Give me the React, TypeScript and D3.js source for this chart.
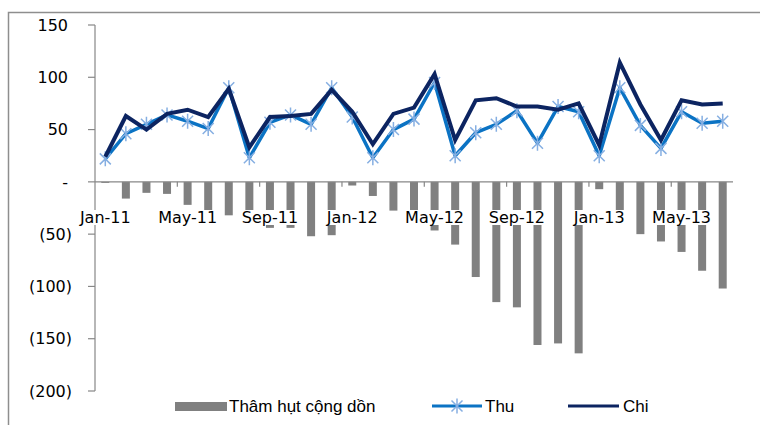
import React, { useEffect, useRef } from "react";
import * as d3 from "d3";

const months = [
  "Jan-11", "Feb-11", "Mar-11", "Apr-11", "May-11", "Jun-11", "Jul-11", "Aug-11", "Sep-11", "Oct-11", "Nov-11", "Dec-11",
  "Jan-12", "Feb-12", "Mar-12", "Apr-12", "May-12", "Jun-12", "Jul-12", "Aug-12", "Sep-12", "Oct-12", "Nov-12", "Dec-12",
  "Jan-13", "Feb-13", "Mar-13", "Apr-13", "May-13", "Jun-13", "Jul-13",
];
const xTickLabels = ["Jan-11", "May-11", "Sep-11", "Jan-12", "May-12", "Sep-12", "Jan-13", "May-13"];
const yTickValues = [150, 100, 50, 0, -50, -100, -150, -200];

const thamHut = [
  -1, -16, -10.5, -11.5, -22, -30, -32, -38, -44, -44, -52, -51,
  -3.5, -13.5, -27.5, -36, -46.5, -60, -91, -115, -120, -156, -154.5, -164,
  -7, -28, -50, -57, -67, -85, -102,
];
const thu = [
  22, 46, 55, 64, 58, 51, 90, 23, 57, 64, 55, 90,
  62, 23, 50, 60, 95, 25, 47, 55, 68, 37, 72, 67,
  25, 90, 54, 32, 67, 56, 58,
];
const chi = [
  24, 63, 50, 65, 69, 62, 89, 33, 62, 63, 65, 88,
  67, 36, 65, 71, 103, 40, 78, 80, 72, 72, 69, 75,
  35, 114, 74, 40, 78, 74, 75,
];
const legendLabels = ["Thâm hụt cộng dồn", "Thu", "Chi"];

const BAR = "#808080";
const THU = "#0b73c4";
const THU_MARK = "#86afe2";
const CHI = "#0c2461";
const AXIS = "#878787";
const AXIS_FONT = "DejaVu Sans";
const LEG_FONT = "Liberation Sans";

const fmt = (v: number) => (v === 0 ? "-" : v < 0 ? `(${-v})` : String(v));

export default function App() {
  const ref = useRef<SVGSVGElement>(null);

  useEffect(() => {
    const svg = d3.select(ref.current);
    svg.selectAll("*").remove();

    const x = d3.scaleBand<string>().domain(months).range([95, 733]).padding(0);
    const y = d3.scaleLinear().domain([-200, 150]).range([391, 25]);
    const cx = (m: string) => (x(m) as number) + x.bandwidth() / 2;
    const y0 = y(0);
    const barW = 8;

    // outer frame
    svg.append("rect")
      .attr("x", 8.5).attr("y", 12.5).attr("width", 800).attr("height", 500)
      .attr("fill", "none").attr("stroke", "#8e8e8e").attr("stroke-width", 1.5);

    // bars
    svg.append("g").selectAll("rect").data(months).join("rect")
      .attr("x", (m) => cx(m) - barW / 2)
      .attr("y", (_, i) => Math.min(y0, y(thamHut[i])))
      .attr("width", barW)
      .attr("height", (_, i) => Math.abs(y(thamHut[i]) - y0))
      .attr("fill", BAR);

    // axes
    const ax = svg.append("g").attr("stroke", AXIS).attr("stroke-width", 1.2);
    ax.append("line").attr("x1", 95).attr("x2", 733).attr("y1", y0).attr("y2", y0);
    ax.append("line").attr("x1", 95).attr("x2", 95).attr("y1", y(150)).attr("y2", y(-200));
    yTickValues.forEach((v) => {
      ax.append("line").attr("x1", 88).attr("x2", 95).attr("y1", y(v)).attr("y2", y(v));
    });
    months.forEach((m, i) => {
      if (i % 4 === 0 && i > 0) {
        ax.append("line").attr("x1", x(m) as number).attr("x2", x(m) as number)
          .attr("y1", y0).attr("y2", y0 + 5);
      }
    });

    // lines
    const line = d3.line<number>()
      .x((_, i) => cx(months[i]))
      .y((d) => y(d));
    svg.append("path").attr("d", line(thu) as string)
      .attr("fill", "none").attr("stroke", THU).attr("stroke-width", 3.5)
      .attr("stroke-linejoin", "round");
    const star = "M-5.5,-5.5L5.5,5.5M-5.5,5.5L5.5,-5.5M0,-7.5L0,7.5";
    svg.append("g").selectAll("path").data(thu).join("path")
      .attr("d", star)
      .attr("transform", (d, i) => `translate(${cx(months[i])},${y(d)})`)
      .attr("stroke", THU_MARK).attr("stroke-width", 1.5).attr("fill", "none");
    svg.append("path").attr("d", line(chi) as string)
      .attr("fill", "none").attr("stroke", CHI).attr("stroke-width", 4)
      .attr("stroke-linejoin", "miter");

    // y labels
    yTickValues.forEach((v) => {
      svg.append("text")
        .attr("x", v < 0 ? 72 : 68)
        .attr("y", y(v))
        .attr("dy", "0.36em")
        .attr("text-anchor", "end")
        .attr("font-family", AXIS_FONT)
        .attr("font-size", 16)
        .attr("fill", "#000")
        .text(fmt(v));
    });

    // x labels with opaque background
    xTickLabels.forEach((lab) => {
      const g = svg.append("g");
      const bg = g.append("rect").attr("fill", "#fff");
      const t = g.append("text")
        .attr("x", cx(lab))
        .attr("y", 223)
        .attr("text-anchor", "middle")
        .attr("font-family", AXIS_FONT)
        .attr("font-size", 16)
        .attr("fill", "#000")
        .text(lab);
      const bb = (t.node() as SVGTextElement).getBBox();
      bg.attr("x", bb.x - 1).attr("y", 210).attr("width", bb.width + 2).attr("height", 15);
    });

    // legend
    const lg = svg.append("g").attr("font-family", LEG_FONT).attr("font-size", 17).attr("fill", "#000");
    lg.append("rect").attr("x", 175).attr("y", 402).attr("width", 52).attr("height", 9).attr("fill", BAR);
    lg.append("text").attr("x", 229).attr("y", 412).text(legendLabels[0]);
    lg.append("line").attr("x1", 432).attr("x2", 482).attr("y1", 406).attr("y2", 406)
      .attr("stroke", THU).attr("stroke-width", 3);
    lg.append("path").attr("d", star).attr("transform", "translate(457,406)")
      .attr("stroke", THU_MARK).attr("stroke-width", 1.5).attr("fill", "none");
    lg.append("text").attr("x", 485).attr("y", 412).text(legendLabels[1]);
    lg.append("line").attr("x1", 568).attr("x2", 619).attr("y1", 406).attr("y2", 406)
      .attr("stroke", CHI).attr("stroke-width", 3);
    lg.append("text").attr("x", 623).attr("y", 412).text(legendLabels[2]);
  }, []);

  return (
    <svg
      ref={ref}
      width={760}
      height={425}
      style={{ position: "absolute", left: 0, top: 0, background: "#fff" }}
    />
  );
}
